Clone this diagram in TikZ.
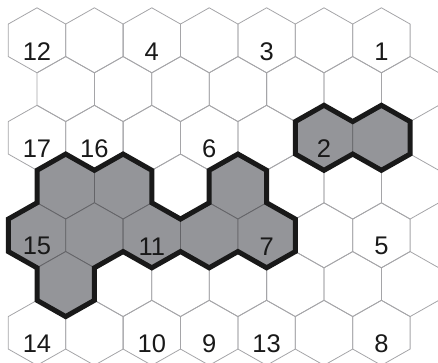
\documentclass[tikz,border=0pt]{standalone}
\usepackage{fontspec}
\setmainfont{Liberation Sans}
\definecolor{cellgray}{RGB}{148,149,153}
\definecolor{gridgray}{RGB}{165,165,168}
\definecolor{innergray}{RGB}{100,100,104}
\begin{document}
\begin{tikzpicture}[x=1pt,y=-1pt,
  hexagon/.pic={\path[pic actions] (-28.7,-16.25) -- (0,-32.5) -- (28.7,-16.25) -- (28.7,16.25) -- (0,32.5) -- (-28.7,16.25) -- cycle;},
  whitecell/.style={draw=gridgray,line width=0.8pt},
  graycell/.style={fill=cellgray,draw=innergray,line width=0.8pt},
  outline/.style={draw=black!90,line width=5pt,line join=miter},
  num/.style={font=\fontsize{25.5}{26}\selectfont,inner sep=0pt,text=black!90}]
\useasboundingbox (0,0) rectangle (438,362);
\begin{scope}
\clip (0,0) rectangle (438,362);
% grid
\foreach \i in {0,...,6}{
  \pgfmathsetmacro\off{mod(\i,2)*28.7}
  \foreach \k in {0,...,6}{
    \pic[whitecell] at ({37+\off+57.4*\k},{40.3+48.75*\i}) {hexagon};
  }
}
% gray cells: (row index, column)
\foreach \i/\k in {2/5,2/6,3/0,3/1,3/3,4/0,4/1,4/2,4/3,4/4,5/0}{
  \pgfmathsetmacro\off{mod(\i,2)*28.7}
  \pic[graycell] at ({37+\off+57.4*\k},{40.3+48.75*\i}) {hexagon};
}
% outlines
\draw[outline] (37,170.3) -- (37,202.8) -- (8.3,219.05) -- (8.3,251.55) -- (37,267.8)
  -- (37,300.3) -- (65.7,316.55) -- (94.4,300.3) -- (94.4,267.8) -- (123.1,251.55)
  -- (151.8,267.8) -- (180.5,251.55) -- (209.2,267.8) -- (237.9,251.55) -- (266.6,267.8)
  -- (295.3,251.55) -- (295.3,219.05) -- (266.6,202.8) -- (266.6,170.3) -- (237.9,154.05)
  -- (209.2,170.3) -- (209.2,202.8) -- (180.5,219.05) -- (151.8,202.8) -- (151.8,170.3)
  -- (123.1,154.05) -- (94.4,170.3) -- (65.7,154.05) -- cycle;
\draw[outline] (295.3,121.55) -- (324,105.3) -- (352.7,121.55) -- (381.4,105.3)
  -- (410.1,121.55) -- (410.1,154.05) -- (381.4,170.3) -- (352.7,154.05)
  -- (324,170.3) -- (295.3,154.05) -- cycle;
\end{scope}
% numbers
\foreach \i/\k/\t in {0/0/12,0/2/4,0/4/3,0/6/1,
                      2/0/17,2/1/16,2/3/6,2/5/2,
                      4/0/15,4/2/11,4/4/7,4/6/5,
                      6/0/14,6/2/10,6/3/9,6/4/13,6/6/8}{
  \node[num] (n\t) at ({37+57.4*\k},{40.3+48.75*\i+11}) {\t};
}
\end{tikzpicture}
\end{document}
